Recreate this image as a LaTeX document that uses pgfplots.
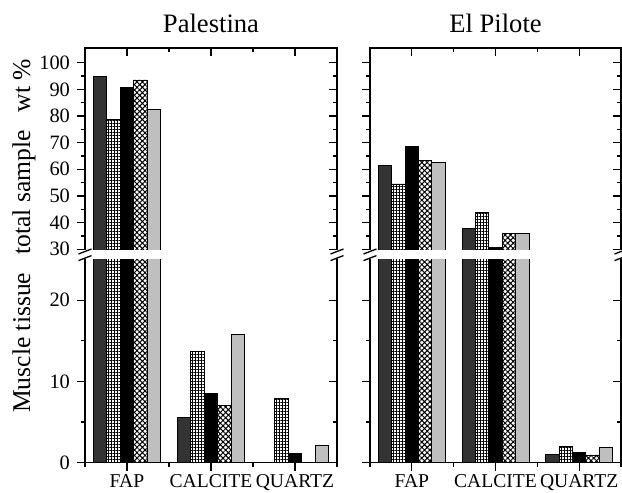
\documentclass[border=0pt]{standalone}
\usepackage{fontspec}
\setmainfont{Liberation Serif}
\usepackage{pgfplots}
\pgfplotsset{compat=1.18}
\usepackage{pgfplotstable}
\usetikzlibrary{patterns.meta}

\definecolor{darkbar}{gray}{0.2}
\definecolor{lightbar}{gray}{0.75}

\pgfplotstableread{
x dark grid black cross light
0 94.7 78.7 90.7 93.5 82.5
1 5.6 13.7 8.5 7.0 15.8
2 nan 7.9 1.15 nan 2.1
}\palestina

\pgfplotstableread{
x dark grid black cross light
0 61.5 54.5 68.5 63.2 62.4
1 37.7 43.9 30.8 36.0 36.0
2 1.07 2.05 1.23 0.95 1.93
}\pilote

\newcommand\bars[1]{%
 \addplot[ybar, bar width=0.16, bar shift=-0.32, fill=darkbar, draw=black, line width=0.45pt] table[x=x,y=dark]{#1};
 \addplot[ybar, bar width=0.16, bar shift=-0.16, draw=black, line width=0.45pt, pattern={Hatch[angle=0,distance=1.5pt,line width=0.5pt]}, pattern color=black] table[x=x,y=grid]{#1};
 \addplot[ybar, bar width=0.16, bar shift=0, fill=black, draw=black, line width=0.45pt] table[x=x,y=black]{#1};
 \addplot[ybar, bar width=0.16, bar shift=0.16, draw=black, line width=0.45pt, pattern={Hatch[angle=45,distance=1.9pt,line width=0.5pt]}, pattern color=black] table[x=x,y=cross]{#1};
 \addplot[ybar, bar width=0.16, bar shift=0.32, fill=lightbar, draw=black, line width=0.45pt] table[x=x,y=light]{#1};
}

\pgfplotsset{
 base/.style={scale only axis, xmin=-0.5, xmax=2.5,
   axis line style={line width=0.75pt},
   every tick/.style={black, line width=0.6pt},
   major tick length=4pt, minor tick length=2pt,
   /pgf/number format/assume math mode=true,
   yticklabel style={font=\fontsize{10.2}{12}\selectfont},
   xticklabel style={font=\fontsize{9.8}{12}\selectfont, yshift=1.8pt},
   anchor=south west,
 },
 up/.style={height=101.5pt, ymin=29.36, ymax=105.5,
   ytick={30,40,...,100}, minor ytick={35,45,...,95}},
 lo/.style={height=102.35pt, ymin=0, ymax=25.18,
   ytick={0,10,20}, minor ytick={5,15}},
 updata/.style={base, up, xtick=\empty, ytick pos=left, tick align=outside},
 upover/.style={base, up, axis line style={draw=none}, xtick={0,1,2}, minor xtick={0.5,1.5},
   xtick pos=top, xticklabels={}, ytick pos=right, yticklabels={}, tick align=inside},
 lodata/.style={base, lo, xtick={0,1,2}, xticklabels={FAP,CALCITE,QUARTZ},
   minor xtick={-0.5,0.5,1.5,2.5}, xtick pos=bottom, ytick pos=left, tick align=outside},
 loover/.style={base, lo, axis line style={draw=none}, xtick=\empty, ytick pos=right,
   yticklabels={}, tick align=inside},
}

\begin{document}
\begin{tikzpicture}
\useasboundingbox (0,0) rectangle (311pt,246.5pt);
% Palestina
\begin{axis}[updata, width=126pt, at={(42.5pt,121pt)}]
\bars{\palestina}
\end{axis}
\begin{axis}[upover, width=126pt, at={(42.5pt,121pt)}]
\end{axis}
\begin{axis}[lodata, width=126pt, at={(42.5pt,15.15pt)}]
\bars{\palestina}
\end{axis}
\begin{axis}[loover, width=126pt, at={(42.5pt,15.15pt)}]
\end{axis}
% El Pilote
\begin{axis}[updata, width=125.5pt, at={(185pt,121pt)}, yticklabels={}]
\bars{\pilote}
\end{axis}
\begin{axis}[upover, width=125.5pt, at={(185pt,121pt)}]
\end{axis}
\begin{axis}[lodata, width=125.5pt, at={(185pt,15.15pt)}, yticklabels={}]
\bars{\pilote}
\end{axis}
\begin{axis}[loover, width=125.5pt, at={(185pt,15.15pt)}]
\end{axis}
% axis breaks
\fill[white] (40pt,116.95pt) rectangle (171pt,121.45pt);
\fill[white] (182.5pt,116.95pt) rectangle (313pt,121.45pt);
\foreach \xx in {42.5,168.5,185,310.5}{
  \draw[line width=0.65pt] (\xx pt-3.25pt,119.5pt) -- (\xx pt+3.25pt,122pt);
  \draw[line width=0.65pt] (\xx pt-3.25pt,116.2pt) -- (\xx pt+3.25pt,118.7pt);
}
% titles
\node[anchor=base, font=\fontsize{13.3}{16}\selectfont, inner sep=0pt] at (105.5pt,230pt) {Palestina};
\node[anchor=base, font=\fontsize{13.3}{16}\selectfont, inner sep=0pt] at (247.75pt,230pt) {El Pilote};
\node[rotate=90, font=\fontsize{12.8}{15}\selectfont, inner sep=0pt] at (12pt,128.5pt) {Muscle tissue\hspace{0.7em}total sample\hspace{0.7em}wt \%};
\end{tikzpicture}
\end{document}
